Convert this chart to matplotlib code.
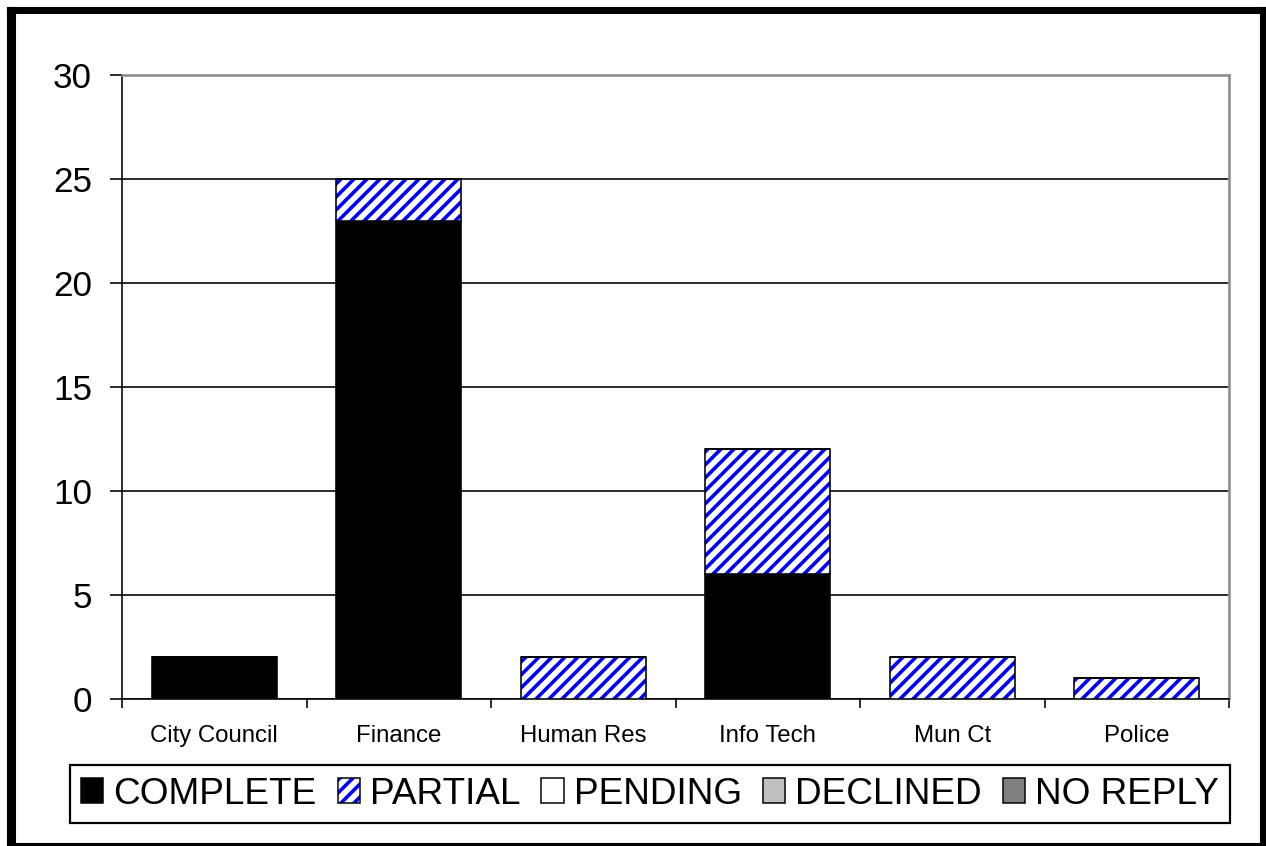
import matplotlib
matplotlib.use("Agg")
import matplotlib.pyplot as plt
from matplotlib.patches import Patch, Rectangle
from matplotlib.legend_handler import HandlerTuple
import numpy as np

# Survey responses by department
categories = ["City Council", "Finance", "Human Res", "Info Tech", "Mun Ct", "Police"]
complete = [2, 23, 0, 6, 0, 0]
partial = [0, 2, 2, 6, 2, 1]
pending = [0, 0, 0, 0, 0, 0]
declined = [0, 0, 0, 0, 0, 0]
no_reply = [0, 0, 0, 0, 0, 0]
series_names = ["COMPLETE", "PARTIAL", "PENDING", "DECLINED", "NO REPLY"]
y_ticks = [0, 5, 10, 15, 20, 25, 30]

DPI = 78
W, H = 1266, 846


def pt(px):
    return px * 72.0 / DPI


plt.rcParams["font.family"] = ["Liberation Sans", "DejaVu Sans"]
plt.rcParams["hatch.linewidth"] = pt(3.6)

fig = plt.figure(figsize=(W / DPI, H / DPI), dpi=DPI, facecolor="white")
left, right, top, bottom = 122, 1229, 75, 699
ax = fig.add_axes([left / W, 1 - bottom / H, (right - left) / W, (bottom - top) / H])

x = np.arange(len(categories))
bw = 0.677
edge_lw = pt(1.6)

# stacked segments
base = np.zeros(len(categories))
ax.bar(x, complete, bw, bottom=base, color="black", edgecolor="black", linewidth=edge_lw, zorder=3)
base = base + np.array(complete)
ax.bar(x, partial, bw, bottom=base, color="white", edgecolor="blue", hatch="//", linewidth=0, zorder=3)
ax.bar(x, partial, bw, bottom=base, fill=False, edgecolor="black", linewidth=edge_lw, zorder=4)
base = base + np.array(partial)
ax.bar(x, pending, bw, bottom=base, color="white", edgecolor="black", linewidth=edge_lw, zorder=3)
base = base + np.array(pending)
ax.bar(x, declined, bw, bottom=base, color="#C0C0C0", edgecolor="black", linewidth=edge_lw, zorder=3)
base = base + np.array(declined)
ax.bar(x, no_reply, bw, bottom=base, color="#808080", edgecolor="black", linewidth=edge_lw, zorder=3)

ax.set_xlim(-0.5, len(categories) - 0.5)
ax.set_ylim(0, 30)
ax.set_yticks(y_ticks)
ax.set_axisbelow(True)
ax.yaxis.grid(True, color="black", linewidth=pt(1.6))

# category labels at centers, tick marks at boundaries
ax.set_xticks(x)
ax.set_xticklabels(categories)
ax.set_xticks(np.arange(-0.5, len(categories), 1.0), minor=True)
ax.tick_params(axis="x", which="major", length=0, pad=pt(26), labelsize=pt(24))
ax.tick_params(axis="x", which="minor", length=pt(9), width=pt(1.6), direction="out", color="black")
ax.tick_params(axis="y", length=pt(12), width=pt(1.6), pad=pt(18), labelsize=pt(35), color="black")

for s in ("left", "bottom"):
    ax.spines[s].set_color("black")
    ax.spines[s].set_linewidth(pt(1.6))
for s in ("top", "right"):
    ax.spines[s].set_color("#8C8C8C")
    ax.spines[s].set_linewidth(pt(2.6))

# legend
handles = [
    Patch(facecolor="black", edgecolor="black", linewidth=pt(1.5)),
    (Patch(facecolor="white", edgecolor="blue", hatch="//", linewidth=0),
     Patch(fill=False, edgecolor="black", linewidth=pt(1.5))),
    Patch(facecolor="white", edgecolor="black", linewidth=pt(1.5)),
    Patch(facecolor="#C0C0C0", edgecolor="black", linewidth=pt(1.5)),
    Patch(facecolor="#808080", edgecolor="black", linewidth=pt(1.5)),
]
leg = fig.legend(
    handles, series_names, loc="center", ncol=5,
    bbox_to_anchor=(650 / W, 1 - 794 / H),
    prop={"size": pt(37)}, frameon=True, fancybox=False, shadow=False,
    framealpha=1.0,
    handlelength=0.6, handleheight=0.65, handletextpad=0.27,
    columnspacing=0.57, borderpad=0.3, borderaxespad=0,
    handler_map={tuple: HandlerTuple(ndivide=1, pad=0)},
)
leg.get_frame().set_edgecolor("black")
leg.get_frame().set_linewidth(pt(2.2))

# chart border
frame_ax = fig.add_axes([0, 0, 1, 1], zorder=-1)
frame_ax.set_xlim(0, W)
frame_ax.set_ylim(H, 0)
frame_ax.axis("off")
frame_ax.add_patch(Rectangle((7, 7), 8, 838, color="black"))
frame_ax.add_patch(Rectangle((7, 7), 1259, 6, color="black"))
frame_ax.add_patch(Rectangle((1260, 7), 6, 838, color="black"))
frame_ax.add_patch(Rectangle((7, 843), 1259, 2, color="black"))

fig.savefig("out.png", dpi=DPI, facecolor="white")
